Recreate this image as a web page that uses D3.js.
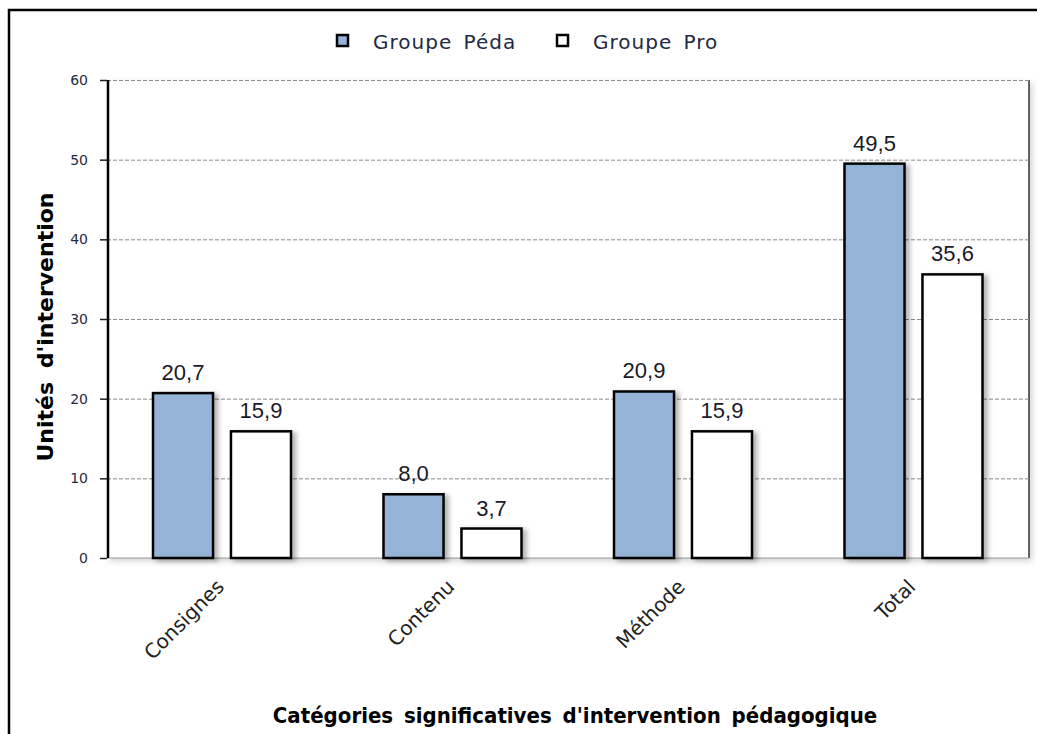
<!DOCTYPE html>
<html><head><meta charset="utf-8">
<script src="https://cdn.jsdelivr.net/npm/d3@7"></script>
<style>body{margin:0;background:#fff}svg{display:block}</style>
</head><body><svg id="c" width="1037" height="734"></svg>
<script>
const categories = ["Consignes", "Contenu", "Méthode", "Total"];
const seriesNames = ["Groupe Péda", "Groupe Pro"];
const peda = [20.7, 8.0, 20.9, 49.5];
const pro = [15.9, 3.7, 15.9, 35.6];
const yTicks = [0, 10, 20, 30, 40, 50, 60];
const colors = ["#95b3d7", "#ffffff"];

const svg = d3.select("#c");
const W = 1037, H = 734;
const m = {left: 107, right: 1029, top: 80, bottom: 558};
const defs = svg.append("defs");
const f = defs.append("filter").attr("id","sh").attr("x","-20%").attr("y","-20%").attr("width","150%").attr("height","150%");
f.append("feDropShadow").attr("dx",4).attr("dy",2).attr("stdDeviation",2.5).attr("flood-color","#000").attr("flood-opacity",0.3);
const f2 = defs.append("filter").attr("id","sh2").attr("x","-5%").attr("y","-5%").attr("width","110%").attr("height","110%");
f2.append("feDropShadow").attr("dx",3).attr("dy",3).attr("stdDeviation",3).attr("flood-color","#000").attr("flood-opacity",0.18);

// outer frame
svg.append("path").attr("d",`M9,${H+5} L9,10 L${W+5},10`).attr("fill","none").attr("stroke","#000").attr("stroke-width",2.5);

const x0 = d3.scaleBand().domain(categories).range([m.left, m.right]).paddingInner(0).paddingOuter(0);
const x1 = d3.scaleBand().domain(seriesNames).range([46, 184]).paddingInner(0.23);
const y = d3.scaleLinear().domain([0,60]).range([m.bottom, m.top]);

// plot background with shadow
svg.append("rect").attr("x",m.left).attr("y",m.top).attr("width",m.right-m.left).attr("height",m.bottom-m.top)
  .attr("fill","#fff").attr("filter","url(#sh2)");
svg.append("line").attr("x1",m.right).attr("x2",m.right).attr("y1",m.top).attr("y2",m.bottom).attr("stroke","#333").attr("stroke-width",1.5);
svg.append("line").attr("x1",m.left).attr("x2",m.right).attr("y1",m.bottom).attr("y2",m.bottom).attr("stroke","#999").attr("stroke-width",1);

// gridlines
svg.append("g").selectAll("line").data(yTicks.filter(d=>d>0)).join("line")
  .attr("x1",m.left).attr("x2",m.right).attr("y1",d=>y(d)+0.5).attr("y2",d=>y(d)+0.5)
  .attr("stroke","#8a8a8a").attr("stroke-width",1).attr("stroke-dasharray","4,2");

// y axis
const ya = svg.append("g").attr("transform",`translate(${m.left},0)`)
  .call(d3.axisLeft(y).tickValues(yTicks).tickSize(7).tickPadding(12).tickFormat(d3.format("d")));
ya.select(".domain").remove();
ya.selectAll(".tick line").attr("stroke","#222").attr("stroke-width",1.5);
ya.selectAll("text").attr("font-family","'DejaVu Sans', Verdana, sans-serif").attr("font-size",14).attr("fill","#1f2a44");
svg.append("line").attr("x1",m.left+1).attr("x2",m.left+1).attr("y1",m.top).attr("y2",m.bottom).attr("stroke","#000").attr("stroke-width",2.5);

// bars
const series = [peda, pro];
const g = svg.append("g");
categories.forEach((c,i)=>{
  seriesNames.forEach((s,j)=>{
    const v = series[j][i];
    g.append("rect").attr("x",x0(c)+x1(s)).attr("y",y(v)).attr("width",x1.bandwidth()).attr("height",y(0)-y(v))
      .attr("fill",colors[j]).attr("stroke","#000").attr("stroke-width",2.5).attr("filter","url(#sh)");
    g.append("text").attr("x",x0(c)+x1(s)+x1.bandwidth()/2).attr("y",y(v)-13).attr("text-anchor","middle")
      .attr("font-family","'Liberation Sans', Arial, sans-serif").attr("font-size",22).attr("fill","#1a1a2a")
      .text(d3.format(".1f")(v).replace(".",","));
  });
});

// x labels
svg.append("g").selectAll("text").data(categories).join("text")
  .attr("transform",d=>`translate(${x0(d)+x0.bandwidth()/2+3},${588}) rotate(-45)`)
  .attr("text-anchor","end").attr("font-family","'DejaVu Sans', Verdana, sans-serif").attr("font-size",20).attr("fill","#222")
  .text(d=>d);

// axis titles
svg.append("text").attr("x",575).attr("y",723).attr("text-anchor","middle")
  .attr("font-family","'DejaVu Sans Condensed','DejaVu Sans', sans-serif").attr("font-weight","bold").attr("font-size",22).attr("fill","#000")
  .attr("word-spacing",4).text("Catégories significatives d'intervention pédagogique");
svg.append("text").attr("transform","translate(53,327) rotate(-90)").attr("text-anchor","middle")
  .attr("font-family","'DejaVu Sans', sans-serif").attr("font-weight","bold").attr("font-size",22).attr("fill","#000")
  .attr("word-spacing",6).text("Unités d'intervention");

// legend
const lg = svg.append("g");
const lx = [336, 556];
seriesNames.forEach((s,j)=>{
  lg.append("rect").attr("x",lx[j]+1).attr("y",35).attr("width",11).attr("height",11).attr("fill",colors[j]).attr("stroke","#000").attr("stroke-width",2.5);
  lg.append("text").attr("x",lx[j]+37).attr("y",49).attr("font-family","'DejaVu Sans', Verdana, sans-serif").attr("font-size",20)
    .attr("fill","#1f2a44").attr("letter-spacing",1).attr("word-spacing",4).text(s);
});
</script></body></html>
